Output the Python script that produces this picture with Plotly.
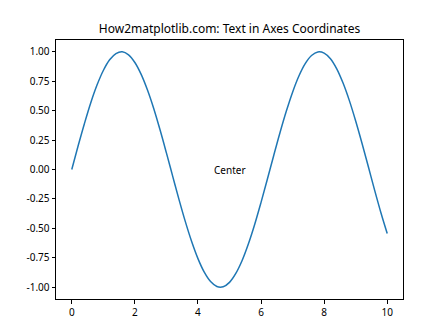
import plotly.graph_objects as go

x_vals = [0.0, 0.2, 0.4, 0.6, 0.8, 1.0, 1.2, 1.4, 1.6, 1.8, 2.0, 2.2, 2.4, 2.6, 2.8, 3.0, 3.2,
          3.4, 3.6, 3.8, 4.0, 4.2, 4.4, 4.6, 4.8, 5.0, 5.2, 5.4, 5.6, 5.8, 6.0, 6.2, 6.4, 6.6,
          6.8, 7.0, 7.2, 7.4, 7.6, 7.8, 8.0, 8.2, 8.4, 8.6, 8.8, 9.0, 9.2, 9.4, 9.6, 9.8, 10.0]
y_vals = [0.000, 0.199, 0.389, 0.565, 0.717, 0.841, 0.932, 0.985, 1.000, 0.974, 0.909, 0.808,
          0.675, 0.516, 0.335, 0.141, -0.058, -0.256, -0.443, -0.612, -0.757, -0.872, -0.952,
          -0.994, -0.996, -0.959, -0.883, -0.773, -0.631, -0.465, -0.279, -0.083, 0.117, 0.312,
          0.494, 0.657, 0.794, 0.899, 0.968, 0.999, 0.989, 0.941, 0.855, 0.734, 0.585, 0.412,
          0.223, 0.025, -0.175, -0.367, -0.544]
x_ticks = [0, 2, 4, 6, 8, 10]
y_ticks = [-1.0, -0.75, -0.5, -0.25, 0.0, 0.25, 0.5, 0.75, 1.0]
title_text = "How2matplotlib.com: Text in Axes Coordinates"
center_label = "Center"

FONT = "Noto Sans"

fig = go.Figure()
fig.add_trace(go.Scatter(x=x_vals, y=y_vals, mode="lines",
                         line=dict(color="#1f77b4", width=1.5, shape="spline", smoothing=1)))

axis_common = dict(showgrid=False, zeroline=False, showline=True, linecolor="black", linewidth=1,
                   mirror=True, ticks="outside", ticklen=3.5, tickwidth=1, tickcolor="black",
                   tickfont=dict(family=FONT, size=10, color="black"))

fig.update_xaxes(range=[-0.5, 10.5], tickvals=x_ticks, ticktext=[str(t) for t in x_ticks], **axis_common)
fig.update_yaxes(range=[-1.1, 1.1], tickvals=y_ticks, ticktext=[f"{t:.2f}" for t in y_ticks], **axis_common)

fig.add_annotation(x=0.5, y=0.5, xref="x domain", yref="y domain", text=center_label,
                   showarrow=False, xanchor="center", yanchor="middle",
                   font=dict(family=FONT, size=10, color="black"))

fig.update_layout(
    width=448, height=336,
    margin=dict(l=56, r=45, t=40, b=37),
    paper_bgcolor="white", plot_bgcolor="white",
    showlegend=False,
    title=dict(text=title_text, x=0.5, xref="paper", xanchor="center",
               y=(336 - 29) / 336, yref="container", yanchor="middle",
               font=dict(family=FONT, size=12, color="black")),
)

fig.write_html("out.html")
